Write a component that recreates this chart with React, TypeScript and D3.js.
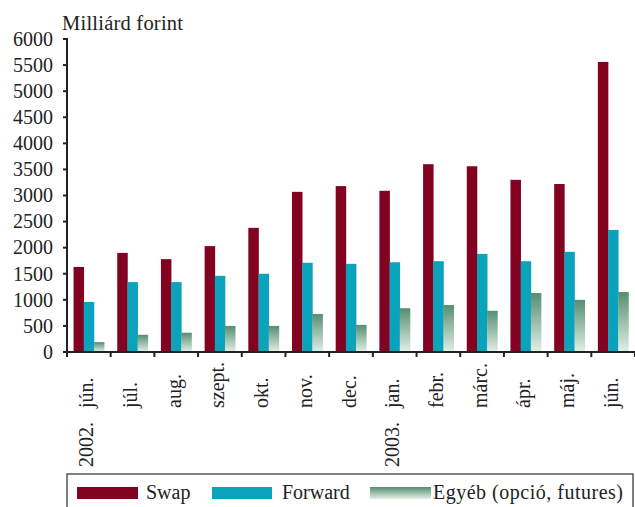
import React from "react";
import * as d3 from "d3";

const categories = [
  "2002. jún.", "júl.", "aug.", "szept.", "okt.", "nov.", "dec.",
  "2003. jan.", "febr.", "márc.", "ápr.", "máj.", "jún.",
];
const swapValues = [1630, 1900, 1780, 2030, 2380, 3070, 3180, 3090, 3600, 3560, 3300, 3220, 5560];
const forwardValues = [960, 1340, 1340, 1460, 1500, 1710, 1690, 1720, 1740, 1880, 1740, 1920, 2340];
const otherValues = [190, 330, 370, 500, 500, 730, 520, 840, 900, 790, 1130, 1000, 1150];
const yTicks = [0, 500, 1000, 1500, 2000, 2500, 3000, 3500, 4000, 4500, 5000, 5500, 6000];
const seriesNames = ["Swap", "Forward", "Egyéb (opció, futures)"];
const yTitle = "Milliárd forint";

const RED = "#820321";
const CYAN = "#0aa3bb";
const FONT = "'Liberation Serif', 'Times New Roman', serif";

export default function App() {
  const W = 635, H = 507;
  const x0 = 67, x1 = 635, yTop = 39, yBase = 352;
  const x = d3.scaleBand<string>().domain(categories).range([x0, x1]).padding(0);
  const y = d3.scaleLinear().domain([0, 6000]).range([yBase, yTop]);
  const bw = 10.2;
  const groupW = bw * 3;
  const off = (x.bandwidth() - groupW) / 2;
  const series = [
    { vals: swapValues, fill: RED },
    { vals: forwardValues, fill: CYAN },
    { vals: otherValues, fill: "url(#greenGrad)" },
  ];
  const boundaries = categories.map((c) => x(c) as number).concat([x1]);

  return (
    <svg width={W} height={H} style={{ position: "absolute", left: 0, top: 0, background: "#fff" }} fontFamily={FONT}>
      <defs>
        <linearGradient id="greenGrad" x1="0" y1="0" x2="0" y2="1">
          <stop offset="0%" stopColor="#558e71" />
          <stop offset="100%" stopColor="#e2efe7" />
        </linearGradient>
      </defs>
      <text x={62} y={30} fontSize={20.5} fill="#222" textLength={121} lengthAdjust="spacing">{yTitle}</text>
      {series.map((s, si) =>
        categories.map((c, i) => (
          <rect
            key={`${si}-${i}`}
            x={(x(c) as number) + off + si * bw}
            y={y(s.vals[i])}
            width={bw + 0.3}
            height={yBase - y(s.vals[i])}
            fill={s.fill}
          />
        ))
      )}
      {/* y axis */}
      <line x1={x0} x2={x0} y1={yTop - 1} y2={yBase + 1} stroke="#222" strokeWidth={2} />
      {yTicks.map((t) => (
        <g key={t}>
          <line x1={x0 - 4} x2={x0} y1={y(t)} y2={y(t)} stroke="#222" strokeWidth={2} />
          <text x={53} y={y(t)} dy="0.34em" textAnchor="end" fontSize={20} fill="#222">{t}</text>
        </g>
      ))}
      {/* x axis */}
      <line x1={x0 - 4} x2={x1} y1={yBase} y2={yBase} stroke="#222" strokeWidth={2} />
      {boundaries.map((b, i) => (
        <line key={i} x1={b} x2={b} y1={yBase} y2={yBase + 5} stroke="#222" strokeWidth={2} />
      ))}
      {categories.map((c) => {
        const cx = (x(c) as number) + x.bandwidth() / 2 + 4.5;
        const parts = c.split(" ");
        const month = parts[parts.length - 1];
        const year = parts.length > 1 ? parts.slice(0, -1).join(" ") : null;
        return (
          <g key={c}>
            <text transform={`translate(${cx},408) rotate(-90)`} textAnchor="start" fontSize={20} fill="#222">{month}</text>
            {year && (
              <text transform={`translate(${cx},422) rotate(-90)`} textAnchor="end" fontSize={20} fill="#222">{year}</text>
            )}
          </g>
        );
      })}
      {/* legend */}
      <rect x={67} y={474} width={566} height={50} fill="none" stroke="#555" strokeWidth={1.5} />
      <rect x={77} y={487} width={61} height={12} fill={RED} />
      <text x={146} y={499} fontSize={20} fill="#222">{seriesNames[0]}</text>
      <rect x={212} y={487} width={60} height={12} fill={CYAN} />
      <text x={282} y={499} fontSize={20} fill="#222">{seriesNames[1]}</text>
      <rect x={370} y={487} width={61} height={12} fill="url(#greenGrad)" />
      <text x={433} y={499} fontSize={20} fill="#222" textLength={190} lengthAdjust="spacing">{seriesNames[2]}</text>
    </svg>
  );
}
